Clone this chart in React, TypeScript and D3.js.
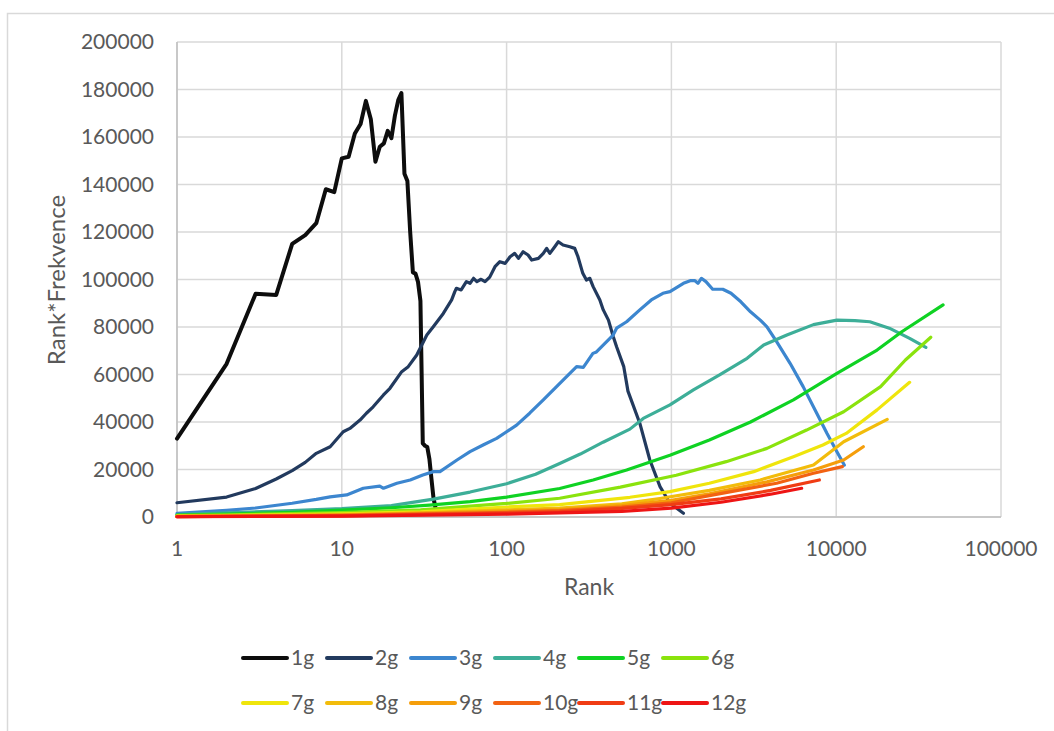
import React from "react";
import * as d3 from "d3";

// Rank vs. rank*frequency for n-grams of length 1..12 (points: [rank, rank*freq])
const g1: [number, number][] = [
  [1, 33000], [2, 64500], [3, 94000], [4, 93500], [5, 115000], [6, 118700], [7, 123700],
  [8, 138000], [9, 136800], [10, 151000], [11, 151700], [12, 161500], [13, 165500],
  [14, 175200], [15, 167500], [16, 149600], [17, 155900], [18, 157300], [19, 162600],
  [20, 159500], [21, 169000], [22, 175500], [23, 178500], [24, 144500], [25, 141500],
  [26, 120000], [27, 103000], [28, 102500], [29, 99000], [30, 91000], [31, 31000],
  [32, 30000], [33, 29500], [34, 24500], [35, 16000], [36, 8000], [37, 4000],
];
const g2: [number, number][] = [
  [1, 6000], [2, 8400], [3, 12000], [4, 16000], [5, 19500], [6, 23000], [7, 26800],
  [8.5, 29600], [10.2, 35900], [11.2, 37300], [12.9, 40800], [14.1, 43700], [15.5, 46400],
  [17.9, 51400], [19.6, 54200], [23.1, 61200], [25.3, 63300], [28.5, 68200], [32.8, 76600],
  [35.9, 80100], [41.3, 85700], [46.4, 91400], [48.5, 94900], [49.6, 96300], [53, 95600],
  [57, 99100], [60, 98400], [63, 100500], [66, 99100], [70, 100100], [74, 99100], [79, 101000],
  [85, 105400], [91, 107500], [98, 106800], [105, 109600], [112, 111000], [118, 108900],
  [126, 111700], [135, 110300], [142, 108200], [156, 108900], [167, 111000], [175, 113100],
  [183, 111000], [196, 113800], [206, 115900], [220, 114500], [242, 113800], [259, 113100],
  [271, 109600], [290, 102600], [305, 99800], [320, 100500], [335, 97000], [368, 91400],
  [386, 87200], [415, 82900], [444, 75900], [465, 71700], [514, 63300], [545, 53000],
  [643, 39500], [740, 24000], [853, 12800], [980, 5800], [1183, 1600],
];
const g3: [number, number][] = [
  [1, 1500], [2, 2800], [3, 3800], [5, 5800], [7, 7400], [8.5, 8500], [10.7, 9300],
  [13.5, 12100], [17, 13000], [17.9, 12100], [21.6, 14200], [26, 15600], [31, 17700],
  [36, 19100], [39.4, 19100], [50, 24000], [60, 27500], [72, 30300], [87, 33100],
  [100, 35900], [115, 38700], [138, 43700], [167, 49300], [201, 54900], [242, 60500],
  [266, 63300], [292, 63000], [334, 68900], [351, 69500], [443, 76600], [465, 79500],
  [535, 82200], [643, 87200], [755, 91400], [888, 94200], [980, 94900], [1183, 98400],
  [1300, 99500], [1390, 99500], [1450, 98400], [1520, 100500], [1620, 99100], [1780, 95900],
  [2050, 95900], [2300, 94200], [2640, 90600], [3020, 86400], [3460, 82900], [3800, 80100],
  [4350, 73800], [5250, 64700], [6300, 54900], [7620, 43700], [8800, 35200], [10100, 27500],
  [11200, 21900],
];
const g4: [number, number][] = [
  [1, 1000], [2, 1700], [5, 2700], [10, 3500], [20, 4800], [36, 7500], [60, 10500],
  [100, 14000], [150, 18000], [210, 22500], [280, 26500], [385, 31500], [560, 37000],
  [675, 41500], [980, 47200], [1360, 53500], [1960, 59800], [2880, 66800], [3630, 72400],
  [5020, 76600], [7280, 81000], [10100, 82900], [13000, 82700], [16000, 82200],
  [21000, 79500], [27900, 75200], [35000, 71400],
];
const g5: [number, number][] = [
  [1, 800], [2, 1200], [5, 2000], [10, 2900], [20, 3900], [34, 5000], [60, 6500],
  [100, 8400], [210, 12000], [335, 15600], [535, 19800], [980, 26000], [1700, 32400],
  [3020, 40000], [5500, 49300], [10100, 60500], [17700, 70300], [25000, 78000], [44500, 89300],
];
const g6: [number, number][] = [
  [1, 600], [2, 900], [5, 1400], [10, 1900], [30, 3000], [100, 5700], [210, 7900],
  [490, 12600], [1070, 17600], [2150, 23300], [3800, 28900], [6610, 36600], [11100, 44300],
  [18600, 54900], [26300, 66100], [37500, 75700],
];
const g7: [number, number][] = [
  [1, 400], [2, 600], [5, 1000], [10, 1300], [30, 2200], [100, 4200], [210, 5200],
  [560, 8300], [980, 10700], [1700, 14200], [3160, 19100], [5500, 25400], [8300, 30300],
  [11500, 35200], [17700, 45100], [27900, 56700],
];
const g8: [number, number][] = [
  [1, 300], [2, 450], [5, 750], [10, 1000], [30, 1700], [100, 3000], [210, 3700],
  [500, 5500], [850, 7800], [1700, 11200], [3460, 15600], [7280, 21900], [11100, 31700],
  [20400, 41100],
];
const g9: [number, number][] = [
  [1, 250], [2, 350], [10, 800], [100, 2500], [210, 3100], [500, 4800], [1000, 7000],
  [1700, 9800], [3800, 14800], [7280, 19800], [11100, 24000], [14600, 29600],
];
const g10: [number, number][] = [
  [1, 200], [10, 650], [100, 2000], [210, 2700], [500, 4200], [1000, 6000], [1700, 9000],
  [4350, 14200], [7280, 18400], [10900, 21200],
];
const g11: [number, number][] = [
  [1, 150], [10, 500], [100, 1600], [210, 2200], [500, 3600], [1000, 5200], [2000, 7600],
  [4000, 11200], [7900, 15600],
];
const g12: [number, number][] = [
  [1, 100], [10, 400], [100, 1200], [210, 1700], [500, 2400], [1000, 3700], [2000, 6200],
  [4000, 9600], [6170, 12100],
];

const SERIES_DATA = [g1, g2, g3, g4, g5, g6, g7, g8, g9, g10, g11, g12];
const SERIES_NAMES = ["1g", "2g", "3g", "4g", "5g", "6g", "7g", "8g", "9g", "10g", "11g", "12g"];
const SERIES_COLORS = [
  "#0d0d0d", "#223a5e", "#3c86cf", "#3dae98", "#0fd223", "#8ae30d",
  "#efe50c", "#f2bc0b", "#f59e0b", "#f26212", "#f03c14", "#ee1515",
];
const X_TICKS = [1, 10, 100, 1000, 10000, 100000];
const Y_TICKS = [0, 20000, 40000, 60000, 80000, 100000, 120000, 140000, 160000, 180000, 200000];

const W = 1054;
const H = 731;
const PLOT = { left: 177, right: 1001, top: 42, bottom: 517 };
const TEXT = "#595959";
const GRID = "#d9d9d9";
const FONT = "Lato, 'Open Sans', sans-serif";

export default function App() {
  const x = d3.scaleLog().domain([1, 100000]).range([PLOT.left, PLOT.right]);
  const y = d3.scaleLinear().domain([0, 200000]).range([PLOT.bottom, PLOT.top]);
  const line = d3
    .line<[number, number]>()
    .x((d) => x(d[0]))
    .y((d) => y(d[1]));

  return (
    <svg
      width={W}
      height={H}
      style={{ position: "absolute", left: 0, top: 0, background: "#fff" }}
      fontFamily={FONT}
    >
      <rect x={0} y={0} width={W} height={H} fill="#fff" />
      <rect x={7.5} y={13.5} width={W + 20} height={H + 20} fill="none" stroke={GRID} strokeWidth={1.5} />

      {/* grid */}
      {Y_TICKS.map((t) => (
        <line key={"gy" + t} x1={PLOT.left} x2={PLOT.right} y1={y(t)} y2={y(t)} stroke={GRID} strokeWidth={1.5} />
      ))}
      {X_TICKS.map((t) => (
        <line key={"gx" + t} x1={x(t)} x2={x(t)} y1={PLOT.top} y2={PLOT.bottom} stroke={GRID} strokeWidth={1.5} />
      ))}
      <line x1={PLOT.left} x2={PLOT.left} y1={PLOT.top} y2={PLOT.bottom} stroke="#bfbfbf" strokeWidth={1.5} />
      <line x1={PLOT.left} x2={PLOT.right} y1={PLOT.bottom} y2={PLOT.bottom} stroke="#bfbfbf" strokeWidth={1.5} />

      {/* tick labels */}
      {Y_TICKS.map((t) => (
        <text key={"ty" + t} x={154} y={y(t)} dy="0.35em" textAnchor="end" fontSize={21} fill={TEXT}>
          {t}
        </text>
      ))}
      {X_TICKS.map((t) => (
        <text key={"tx" + t} x={x(t)} y={556} textAnchor="middle" fontSize={21} fill={TEXT}>
          {t}
        </text>
      ))}

      {/* axis titles */}
      <text x={589} y={595} textAnchor="middle" fontSize={23} fill={TEXT}>
        Rank
      </text>
      <text transform="translate(65,280) rotate(-90)" textAnchor="middle" fontSize={24} fill={TEXT}>
        Rank*Frekvence
      </text>

      {/* series */}
      {SERIES_DATA.map((d, i) => (
        <path
          key={SERIES_NAMES[i]}
          d={line(d) || ""}
          fill="none"
          stroke={SERIES_COLORS[i]}
          strokeWidth={i === 0 ? 4 : 3.2}
          strokeLinejoin="round"
          strokeLinecap="round"
        />
      ))}

      {/* legend */}
      {SERIES_NAMES.map((name, i) => {
        const lx = 243 + (i % 6) * 84;
        const ly = 658 + Math.floor(i / 6) * 45;
        return (
          <g key={"lg" + name}>
            <line x1={lx} x2={lx + 44} y1={ly} y2={ly} stroke={SERIES_COLORS[i]} strokeWidth={4} strokeLinecap="round" />
            <text x={lx + 48} y={ly} dy="0.35em" fontSize={21} fill={TEXT}>
              {name}
            </text>
          </g>
        );
      })}
    </svg>
  );
}
